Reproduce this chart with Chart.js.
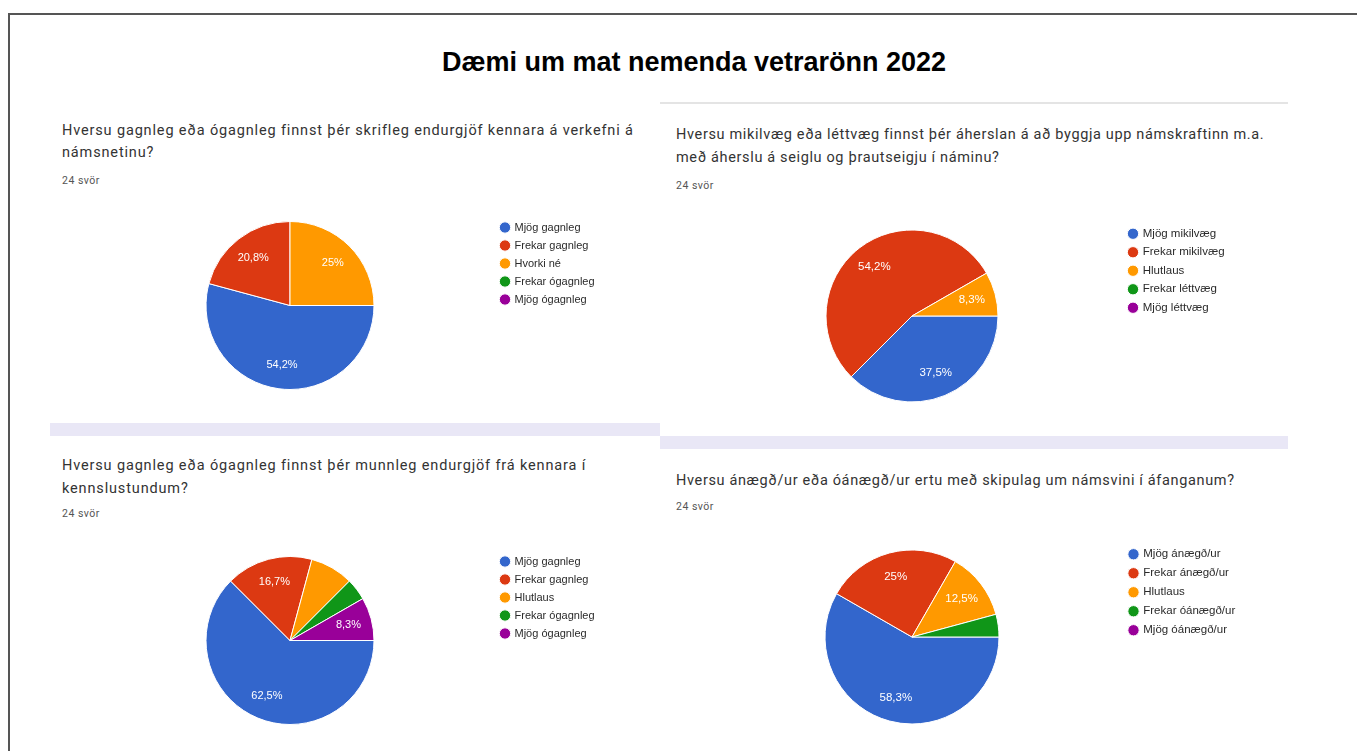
<!DOCTYPE html>
<html>
<head>
<meta charset="utf-8">
<script src="https://cdn.jsdelivr.net/npm/chart.js@4.4.1/dist/chart.umd.min.js"></script>
<style>
html,body{margin:0;padding:0;background:#fff;}
body{width:1357px;height:751px;position:relative;overflow:hidden;}
.abs{position:absolute;white-space:nowrap;}
.frame{left:8px;top:13px;width:1400px;height:800px;border-top:2px solid #555;border-left:2px solid #555;}
.title{left:0;width:1388px;top:47px;line-height:30px;text-align:center;font-weight:bold;font-size:27px;font-family:"Liberation Sans",Arial,sans-serif;color:#000;}
.q{font-family:Roboto,"Noto Sans",sans-serif;font-size:14.5px;letter-spacing:0.85px;line-height:22px;color:#333;}
.qr{letter-spacing:0.64px;}
.n{font-family:Roboto,"Noto Sans",sans-serif;font-size:10.5px;letter-spacing:0.5px;line-height:12px;color:#555;}
.sep{background:#e4e4e4;}
.band{background:#e9e7f6;}
canvas{position:absolute;}
</style>
</head>
<body>
<div class="abs frame"></div>
<div class="abs title">Dæmi um mat nemenda vetrarönn 2022</div>

<div class="abs sep" style="left:660px;top:102px;width:628px;height:2px;"></div>
<div class="abs band" style="left:50px;top:423px;width:610px;height:13px;"></div>
<div class="abs band" style="left:660px;top:436px;width:628px;height:13px;"></div>

<div class="abs q" style="left:62px;top:120px;">Hversu gagnleg eða ógagnleg finnst þér skrifleg endurgjöf kennara á verkefni á<br>námsnetinu?</div>
<div class="abs n" style="left:62px;top:175px;">24 svör</div>

<div class="abs q qr" style="left:676px;top:123px;line-height:23px;">Hversu mikilvæg eða léttvæg finnst þér áherslan á að byggja upp námskraftinn m.a.<br>með áherslu á seiglu og þrautseigju í náminu?</div>
<div class="abs n" style="left:676px;top:180px;">24 svör</div>

<div class="abs q" style="left:62px;top:454px;line-height:23px;">Hversu gagnleg eða ógagnleg finnst þér munnleg endurgjöf frá kennara í<br>kennslustundum?</div>
<div class="abs n" style="left:62px;top:508px;">24 svör</div>

<div class="abs q qr" style="left:676px;top:470px;">Hversu ánægð/ur eða óánægð/ur ertu með skipulag um námsvini í áfanganum?</div>
<div class="abs n" style="left:676px;top:501px;">24 svör</div>

<canvas id="c1" width="558" height="181" style="left:86px;top:214.5px;width:558px;height:181px;"></canvas>
<canvas id="c2" width="570" height="190" style="left:702px;top:221px;width:570px;height:190px;"></canvas>
<canvas id="c3" width="558" height="183" style="left:86px;top:548.5px;width:558px;height:183px;"></canvas>
<canvas id="c4" width="570" height="192" style="left:702px;top:541px;width:570px;height:192px;"></canvas>

<script>
// ---- Data (percent of 24 answers) ----
const colors = ['#3366cc', '#dc3912', '#ff9900', '#109618', '#990099'];

const categories1 = ['Mjög gagnleg', 'Frekar gagnleg', 'Hvorki né', 'Frekar ógagnleg', 'Mjög ógagnleg'];
const values1 = [54.2, 20.8, 25, 0, 0];
const showLabel1 = [true, true, true, false, false];

const categories2 = ['Mjög mikilvæg', 'Frekar mikilvæg', 'Hlutlaus', 'Frekar léttvæg', 'Mjög léttvæg'];
const values2 = [37.5, 54.2, 8.3, 0, 0];
const showLabel2 = [true, true, true, false, false];

const categories3 = ['Mjög gagnleg', 'Frekar gagnleg', 'Hlutlaus', 'Frekar ógagnleg', 'Mjög ógagnleg'];
const values3 = [62.5, 16.7, 8.3, 4.2, 8.3];
const showLabel3 = [true, true, false, false, true];

const categories4 = ['Mjög ánægð/ur', 'Frekar ánægð/ur', 'Hlutlaus', 'Frekar óánægð/ur', 'Mjög óánægð/ur'];
const values4 = [58.3, 25, 12.5, 4.2, 0];
const showLabel4 = [true, true, true, false, false];

function fmtPct(v) { return String(v).replace('.', ',') + '%'; }

function sliceLabelsPlugin(show, fontSize, frac) {
  return {
    id: 'sliceLabels',
    afterDatasetsDraw(chart) {
      const ctx = chart.ctx;
      const meta = chart.getDatasetMeta(0);
      const data = chart.data.datasets[0].data;
      ctx.save();
      ctx.fillStyle = '#ffffff';
      ctx.font = fontSize + 'px "Liberation Sans", Arial, sans-serif';
      ctx.textAlign = 'center';
      ctx.textBaseline = 'middle';
      meta.data.forEach((arc, i) => {
        if (!show[i]) return;
        const p = arc.getProps(['x', 'y', 'startAngle', 'endAngle', 'outerRadius'], true);
        const a = (p.startAngle + p.endAngle) / 2;
        const r = p.outerRadius * frac;
        ctx.fillText(fmtPct(data[i]), p.x + Math.cos(a) * r, p.y + Math.sin(a) * r);
      });
      ctx.restore();
    }
  };
}

function legendWidthPlugin(w) {
  return {
    id: 'legendWidth',
    beforeUpdate(chart) {
      const lg = chart.legend;
      if (lg && !lg._wfix) {
        const orig = lg.fit;
        lg.fit = function () { orig.call(this); this.width = w; };
        lg._wfix = true;
      }
    }
  };
}

function makePie(id, labels, values, show, radius, fontSize, padding) {
  new Chart(document.getElementById(id), {
    type: 'pie',
    data: {
      labels: labels,
      datasets: [{
        data: values,
        backgroundColor: colors,
        borderColor: '#ffffff',
        borderWidth: 1,
        radius: radius
      }]
    },
    options: {
      responsive: false,
      animation: false,
      events: [],
      rotation: 90,
      layout: { padding: 0 },
      plugins: {
        tooltip: { enabled: false },
        legend: {
          position: 'right',
          align: 'start',
          labels: {
            usePointStyle: true,
            pointStyle: 'circle',
            boxWidth: 8,
            boxHeight: 8,
            padding: padding,
            color: '#2a2a2a',
            font: { family: '"Liberation Sans", Arial, sans-serif', size: fontSize }
          }
        }
      }
    },
    plugins: [legendWidthPlugin(150), sliceLabelsPlugin(show, fontSize, 0.72)]
  });
}

makePie('c1', categories1, values1, showLabel1, 84, 11, 7);
makePie('c2', categories2, values2, showLabel2, 86, 11.5, 7);
makePie('c3', categories3, values3, showLabel3, 84, 11, 7);
makePie('c4', categories4, values4, showLabel4, 87, 11.5, 7.5);
</script>
</body>
</html>
